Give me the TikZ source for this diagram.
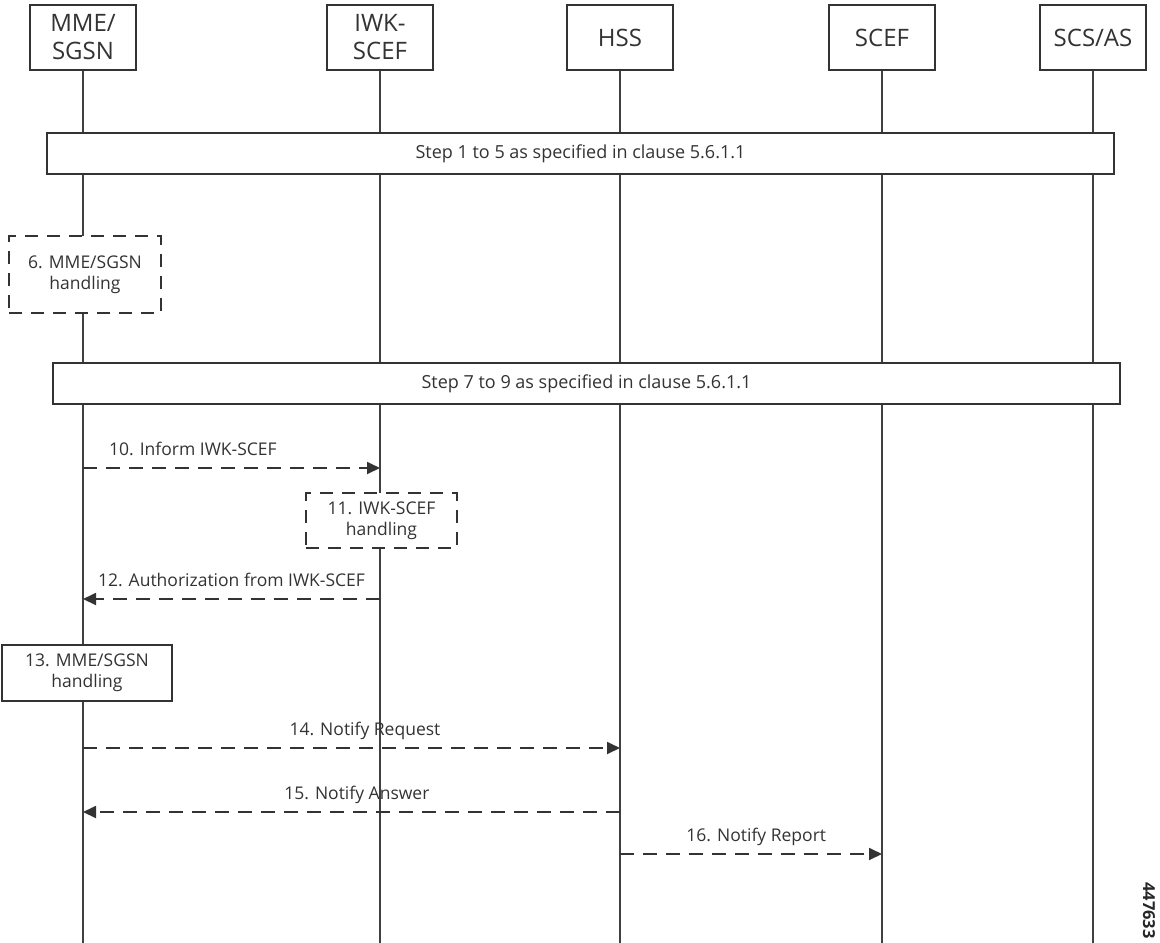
\documentclass[tikz,border=0pt]{standalone}
\usepackage{fontspec}
\setmainfont{Open Sans}
\usetikzlibrary{arrows.meta}

\begin{document}
\begin{tikzpicture}[x=1pt,y=-1pt,
    entity/.style={draw=black!80, line width=1.7pt, fill=white, minimum width=106pt, minimum height=65pt,
      inner sep=0pt, align=center, text=black!80, font=\fontsize{24}{28}\selectfont},
    stepbar/.style={draw=black!80, line width=1.7pt, fill=white, minimum height=41pt,
      text=black!80, font=\fontsize{18}{21}\selectfont},
    handling/.style={draw=black!80, line width=1.8pt, fill=white, inner sep=0pt, align=center,
      text=black!80, font=\fontsize{17.5}{21}\selectfont},
    dashbox/.style={handling, dash pattern=on 13pt off 9pt},
    lifeline/.style={draw=black!75, line width=1.4pt},
    msg/.style={draw=black!80, line width=1.8pt, dash pattern=on 14pt off 9pt,
      -{Triangle[length=13pt,width=12pt]}},
    lbl/.style={anchor=base, yshift=13pt, text=black!80, font=\fontsize{17.5}{21}\selectfont}]

  \useasboundingbox (0,0) rectangle (1160,943);

  % entities
  \node[entity] (mme)  at (83,37.5)   {MME/\\SGSN};
  \node[entity] (iwk)  at (380,37.5)  {IWK-\\SCEF};
  \node[entity] (hss)  at (620,37.5)  {HSS};
  \node[entity] (scef) at (882,37.5)  {SCEF};
  \node[entity] (scs)  at (1093,37.5) {SCS/AS};

  % draw lifelines
  \coordinate (bot) at (0,943);
  \foreach \n in {mme,iwk,hss,scef,scs}
    \draw[lifeline] (\n.south) -- (\n.south |- bot);

  % steps over all entities
  \node[stepbar, minimum width=1067pt] (s1) at (580.5,153.5) {Step 1 to 5 as specified in clause 5.6.1.1};
  \node[stepbar, minimum width=1067pt] (s7) at (586.5,383.5) {Step 7 to 9 as specified in clause 5.6.1.1};

  % local handling
  \node[dashbox, minimum width=152pt, minimum height=77pt] (h6)  at (85,274.5)  {6. MME/SGSN\\handling};
  \node[dashbox, minimum width=151pt, minimum height=55pt] (h11) at (381.5,520.5) {11. IWK-SCEF\\handling};
  \node[handling, minimum width=170pt, minimum height=56pt] (h13) at (87,673) {13. MME/SGSN\\handling};

  % messages
  \foreach \f/\t/\y/\p/\txt in {
      mme/iwk/468/0.37/10. Inform IWK-SCEF,
      iwk/mme/599/0.5/12. Authorization from IWK-SCEF,
      mme/hss/748/0.525/14. Notify Request,
      hss/mme/812/0.49/15. Notify Answer,
      hss/scef/854/0.52/16. Notify Report}
  {
    \coordinate (\f-\y) at (\f.center |- 0,\y);
    \coordinate (\t-\y) at (\t.center |- 0,\y);
    \draw[msg] (\f-\y) -- node[lbl, pos=\p] {\txt} (\t-\y);
  }

  % figure number
  \node[rotate=-90, anchor=base west, inner sep=0pt, text=black!85,
    font=\bfseries\fontsize{16.5}{20}\selectfont] (fignum) at (1143,882) {447633};
\end{tikzpicture}
\end{document}
